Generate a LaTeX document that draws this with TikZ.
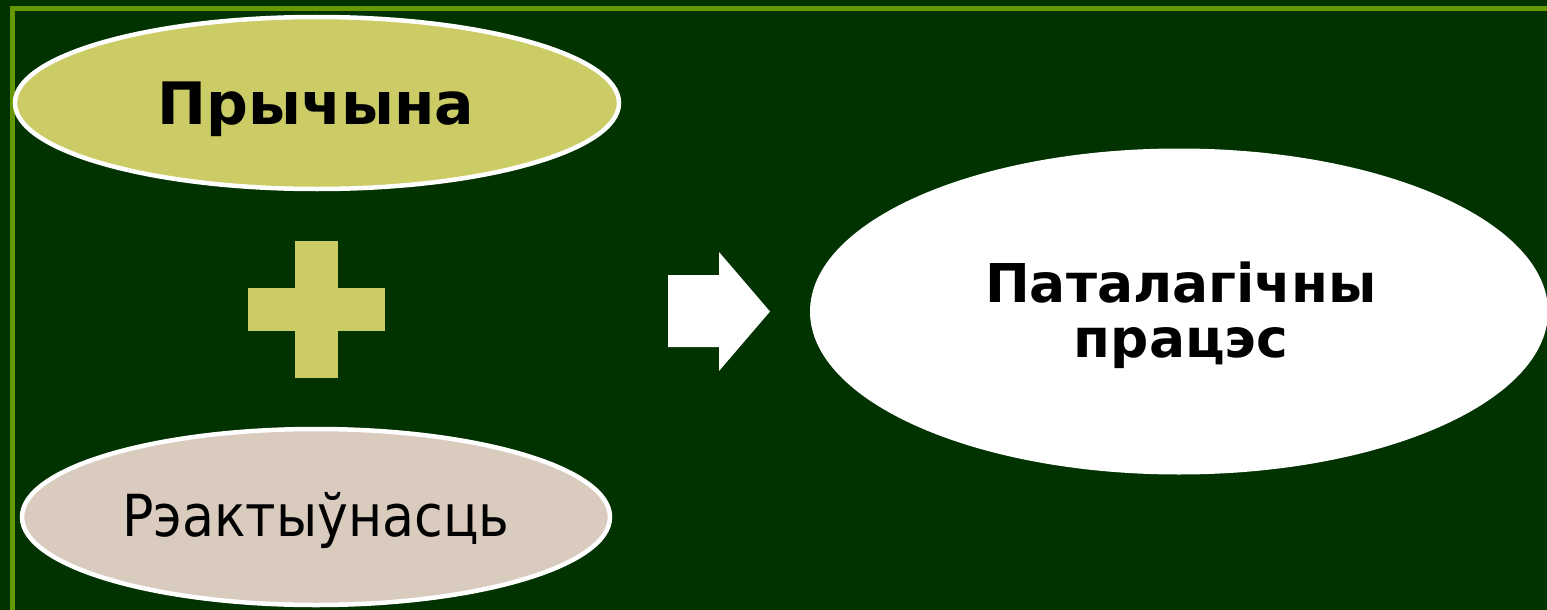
\documentclass[tikz,border=0pt]{standalone}
\usepackage{fontspec}
\setmainfont{DejaVu Sans}
\newfontfamily\condfont{DejaVu Sans Condensed}
\definecolor{bgdark}{HTML}{003300}
\definecolor{framegreen}{HTML}{669900}
\definecolor{olive}{HTML}{CCCC66}
\definecolor{beige}{HTML}{D9CCBF}
\begin{document}
\begin{tikzpicture}[x=1pt,y=-1pt,
  ellshape/.style={draw=white, line width=4.5pt}]
\useasboundingbox (0,0) rectangle (1547,610);
\fill[bgdark] (0,0) rectangle (1547,610);
\draw[framegreen, line width=4.5pt] (12.5,640) -- (12.5,8.5) -- (1600,8.5);
% Cause ellipse
\filldraw[olive, ellshape] (317,103) ellipse [x radius=302, y radius=86];
\node[font=\bfseries\fontsize{58.5}{58.5}\selectfont] (cause) at (316,109) {Прычына};
% plus
\fill[olive] (295,241) rectangle (338,378);
\fill[olive] (248,288) rectangle (385,331);
\node (plus) at (316.5,309.5) {};
% reactivity ellipse
\filldraw[beige, ellshape] (316,517) ellipse [x radius=294, y radius=88];
\node[font=\condfont\fontsize{58}{58}\selectfont] (react) at (316,520) {Рэактыўнасць};
% arrow
\fill[white] (668,275) -- (719,275) -- (719,252) -- (770,311.5) -- (719,371) -- (719,347) -- (668,347) -- cycle;
% result ellipse
\fill[white] (1179,311.5) ellipse [x radius=369, y radius=163];
\node[font=\bfseries\fontsize{53.5}{55}\selectfont, align=center] (proc) at (1181,315) {Паталагічны\\працэс};
\end{tikzpicture}
\end{document}
